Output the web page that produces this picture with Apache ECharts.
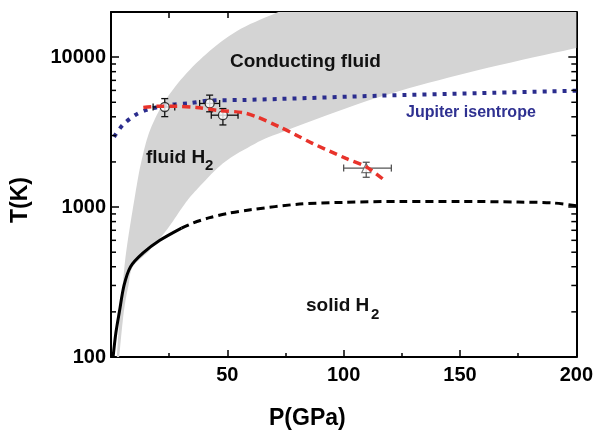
<!DOCTYPE html>
<html>
<head>
<meta charset="utf-8">
<script src="https://cdn.jsdelivr.net/npm/echarts/dist/echarts.min.js"></script>
<style>
  html, body { margin: 0; padding: 0; background: #fff; }
  #chart { width: 596px; height: 433px; }
</style>
</head>
<body>
<div id="chart"></div>
<script>
// phase diagram of hydrogen, P in GPa, T in K

// gray band (conducting fluid), upper-left edge and lower-right edge
const bandUpperP = [2.5, 3.8, 5, 6.5, 9.5, 13, 17.4, 25.3, 38, 54, 72];
const bandUpperT = [100, 200, 300, 500, 1000, 2000, 3440, 5700, 9550, 14900, 20000];
const bandLowerP = [3.5, 5.5, 7.5, 9.4, 16.7, 24.4, 31.7, 36.7, 48, 60, 72, 115, 158, 200];
const bandLowerT = [100, 200, 300, 400, 517, 720, 1050, 1300, 1950, 2550, 3100, 5400, 8200, 11500];

// melting line (solid part, then dashed extrapolation)
const meltP = [0.9, 2.1, 3.6, 5.6, 8.4, 13.8, 21, 30.3];
const meltT = [100, 145, 200, 300, 400, 494, 600, 724];
const meltDashP = [30.3, 35, 42.4, 50, 60, 81, 100, 125, 150, 175, 190, 200];
const meltDashT = [724, 780, 850, 906, 960, 1047, 1075, 1090, 1090, 1080, 1065, 1020];

// Jupiter isentrope
const jupP = [1.3, 5, 10.3, 16, 25, 33.9, 42.4, 56.6, 72.4, 115, 158, 200];
const jupT = [2940, 3520, 4100, 4480, 4800, 4930, 5130, 5180, 5260, 5530, 5750, 5970];

// red dashed curve
const redP = [13.9, 20, 28, 36.7, 46.7, 56.6, 62.4, 72.4, 79.6, 86.6, 101, 109.6, 117.4];
const redT = [4620, 4700, 4700, 4620, 4400, 4270, 4010, 3430, 3020, 2660, 2110, 1860, 1515];

// points with error bars (circles)
const circP = [23.1, 42.4, 48.1];
const circT = [4650, 4910, 4100];
const circPlo = [18.1, 38.1, 43.1];
const circPhi = [27.4, 46.7, 54.6];
const circTlo = [4010, 4320, 3530];
const circThi = [5290, 5580, 4540];

// triangle point
const triP = [109.7];
const triT = [1820];
const triPlo = [100];
const triPhi = [120.5];
const triTlo = [1580];
const triThi = [1990];

// axes
const xTicks = [0, 50, 100, 150, 200];
const yMinorTicks = [200, 300, 400, 500, 600, 700, 800, 900,
  2000, 3000, 4000, 5000, 6000, 7000, 8000, 9000];

const FONT = '"Liberation Sans", Arial, Helvetica, sans-serif';
const zip = (a, b) => a.map((v, i) => [v, b[i]]);

const chart = echarts.init(document.getElementById('chart'));

// smooth outline through pixel points (catmull-rom, drawing only)
function smoothPts(pts) {
  const out = [];
  const n = pts.length;
  for (let i = 0; i < n - 1; i++) {
    const p0 = pts[Math.max(i - 1, 0)], p1 = pts[i], p2 = pts[i + 1], p3 = pts[Math.min(i + 2, n - 1)];
    for (let k = 0; k < 10; k++) {
      const t = k / 10, t2 = t * t, t3 = t2 * t;
      const f = (a, b, c, d) => 0.5 * (2 * b + (-a + c) * t + (2 * a - 5 * b + 4 * c - d) * t2 + (-a + 3 * b - 3 * c + d) * t3);
      out.push([f(p0[0], p1[0], p2[0], p3[0]), f(p0[1], p1[1], p2[1], p3[1])]);
    }
  }
  out.push(pts[n - 1]);
  return out;
}

function errorBars(P, T, Plo, Phi, Tlo, Thi, color) {
  return function (params, api) {
    const i = params.dataIndex;
    const xl = api.coord([Plo[i], T[i]]);
    const xh = api.coord([Phi[i], T[i]]);
    const yl = api.coord([P[i], Tlo[i]]);
    const yh = api.coord([P[i], Thi[i]]);
    const st = { stroke: color, lineWidth: 1.3 };
    const cap = 3.5;
    const ln = (x1, y1, x2, y2) => ({ type: 'line', shape: { x1, y1, x2, y2 }, style: st });
    return {
      type: 'group',
      children: [
        ln(xl[0], xl[1], xh[0], xh[1]),
        ln(yl[0], yl[1], yh[0], yh[1]),
        ln(xl[0], xl[1] - cap, xl[0], xl[1] + cap),
        ln(xh[0], xh[1] - cap, xh[0], xh[1] + cap),
        ln(yl[0] - cap, yl[1], yl[0] + cap, yl[1]),
        ln(yh[0] - cap, yh[1], yh[0] + cap, yh[1])
      ]
    };
  };
}

function minorTicks(side) {
  return function (params, api) {
    const t = api.value(1);
    const p = api.coord([side === 'left' ? 0 : 200, t]);
    const d = side === 'left' ? 5 : -5;
    return {
      type: 'line',
      shape: { x1: p[0], y1: p[1], x2: p[0] + d, y2: p[1] },
      style: { stroke: '#000', lineWidth: 1.5 }
    };
  };
}

const axisLine = { show: true, onZero: false, lineStyle: { color: '#000', width: 2 } };
const tickStyle = { color: '#000', width: 1.5 };
const logLabel = function (v) {
  const e = Math.log10(v);
  return Math.abs(e - Math.round(e)) < 1e-6 ? String(Math.round(v)) : '';
};
const txt = (left, top, text, size, color) => ({
  type: 'text', left, top, z: 100,
  style: { text, fontSize: size, fontWeight: 'bold', fontFamily: FONT, fill: color || '#111' }
});

const option = {
  animation: false,
  backgroundColor: '#fff',
  grid: { left: 111, right: 18, top: 12, bottom: 76 },
  xAxis: [
    {
      type: 'value', min: 0, max: 200, interval: 50, position: 'bottom',
      axisLine: axisLine,
      axisTick: { inside: true, length: 7, lineStyle: tickStyle },
      minorTick: { show: true, splitNumber: 2, length: 4, lineStyle: tickStyle },
      axisLabel: {
        color: '#000', fontSize: 20, fontWeight: 'bold', fontFamily: FONT, margin: 8,
        formatter: v => (v === xTicks[0] ? '' : String(v))
      },
      splitLine: { show: false }
    },
    {
      type: 'value', min: 0, max: 200, interval: 25, position: 'top',
      axisLine: axisLine,
      axisTick: { inside: true, length: 6, lineStyle: tickStyle },
      axisLabel: { show: false },
      splitLine: { show: false }
    }
  ],
  yAxis: [
    {
      type: 'log', logBase: 10, min: 100, max: 20000, position: 'left',
      axisLine: axisLine,
      axisTick: { inside: true, length: 8, lineStyle: tickStyle },
      axisLabel: {
        color: '#000', fontSize: 20, fontWeight: 'bold', fontFamily: FONT, margin: 5,
        formatter: logLabel
      },
      splitLine: { show: false }
    },
    {
      type: 'log', logBase: 10, min: 100, max: 20000, position: 'right',
      axisLine: axisLine,
      axisTick: { inside: true, length: 8, lineStyle: tickStyle },
      axisLabel: { show: false },
      splitLine: { show: false }
    }
  ],
  graphic: [
    txt(230, 52, 'Conducting fluid', 19),
    txt(146, 148, 'fluid H', 19),
    txt(205, 158, '2', 15),
    txt(306, 296, 'solid H', 19),
    txt(371, 307, '2', 15),
    txt(406, 105, 'Jupiter isentrope', 16, '#2f3191'),
    txt(269, 407, 'P(GPa)', 23, '#000'),
    {
      type: 'text', x: 21, y: 200, rotation: Math.PI / 2, z: 100,
      style: { text: 'T(K)', fontSize: 23, fontWeight: 'bold', fontFamily: FONT, fill: '#000', align: 'center', verticalAlign: 'middle' }
    }
  ],
  series: [
    {
      // gray band
      type: 'custom', z: 1, silent: true, clip: true,
      data: [[bandUpperP[0], bandUpperT[0]]],
      renderItem: function (params, api) {
        const up = bandUpperP.map((p, i) => api.coord([p, bandUpperT[i]]));
        const lo = bandLowerP.map((p, i) => api.coord([p, bandLowerT[i]])).reverse();
        const pts = smoothPts(up).concat([api.coord([200, 20000])], smoothPts(lo));
        return { type: 'polygon', shape: { points: pts }, style: { fill: '#d4d4d4' } };
      }
    },
    {
      type: 'line', z: 2, data: zip(meltP, meltT), smooth: 0.3, showSymbol: false,
      lineStyle: { color: '#000', width: 3 }
    },
    {
      type: 'line', z: 2, data: zip(meltDashP, meltDashT), smooth: 0.3, showSymbol: false,
      lineStyle: { color: '#000', width: 3, type: [8, 5] }
    },
    {
      type: 'line', z: 3, data: zip(jupP, jupT), smooth: 0.3, showSymbol: false,
      lineStyle: { color: '#2b2d8e', width: 4, type: [4, 6] }
    },
    {
      type: 'custom', z: 4, data: zip(circP, circT),
      renderItem: errorBars(circP, circT, circPlo, circPhi, circTlo, circThi, '#111')
    },
    {
      type: 'custom', z: 4, data: zip(triP, triT),
      renderItem: errorBars(triP, triT, triPlo, triPhi, triTlo, triThi, '#555')
    },
    {
      type: 'scatter', z: 5, data: zip(circP, circT), symbol: 'circle', symbolSize: 9,
      itemStyle: { color: '#fff', borderColor: '#111', borderWidth: 1.3 }
    },
    {
      type: 'scatter', z: 5, data: zip(triP, triT), symbol: 'triangle', symbolSize: 9,
      itemStyle: { color: '#fff', borderColor: '#555', borderWidth: 1.2 }
    },
    {
      type: 'line', z: 6, data: zip(redP, redT), smooth: 0.3, showSymbol: false,
      lineStyle: { color: '#e8332b', width: 3.5, type: [8, 5] }
    },
    {
      // minor ticks of the left log axis
      type: 'custom', z: 10, silent: true, clip: false, yAxisIndex: 0,
      data: yMinorTicks.map(t => [0, t]),
      renderItem: minorTicks('left')
    },
    {
      // minor ticks of the right log axis
      type: 'custom', z: 10, silent: true, clip: false, yAxisIndex: 1,
      data: yMinorTicks.map(t => [200, t]),
      renderItem: minorTicks('right')
    }
  ]
};

chart.setOption(option);
</script>
</body>
</html>
